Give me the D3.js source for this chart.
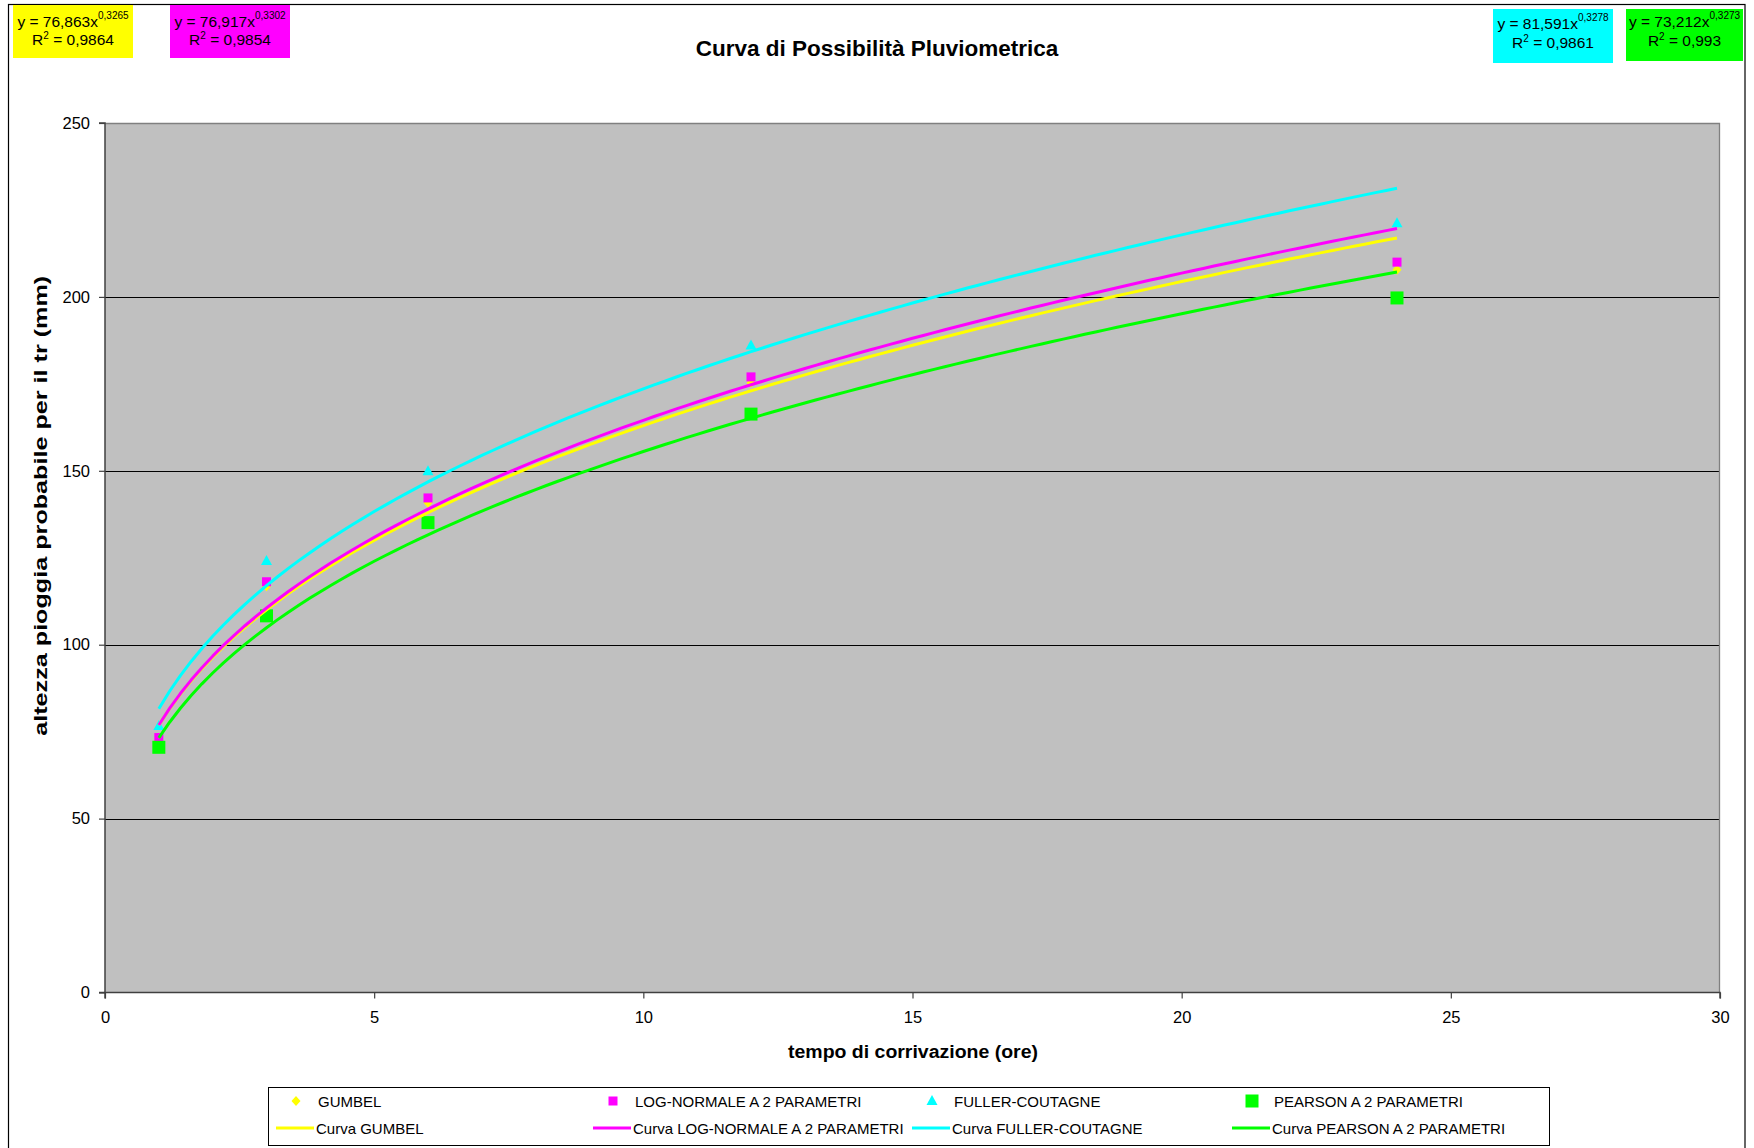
<!DOCTYPE html>
<html>
<head>
<meta charset="utf-8">
<script src="https://cdn.jsdelivr.net/npm/d3@7"></script>
<style>
  html, body { margin: 0; padding: 0; background: #ffffff; }
  svg { display: block; }
  text { font-family: "Liberation Sans", Arial, sans-serif; fill: #000; }
</style>
</head>
<body>
<svg id="chart" width="1754" height="1148"></svg>
<script>
// ---- data ----
const xValues = [1, 3, 6, 12, 24];
const gumbel = [72.5, 116.8, 140.8, 175.3, 207.8];
const logNormale = [73.3, 118.1, 142.2, 177.0, 210.0];
const fullerCoutagne = [76.6, 124.1, 149.9, 186.0, 221.2];
const pearson = [70.5, 108.3, 135.1, 166.3, 199.7];
const seriesNames = ["GUMBEL", "LOG-NORMALE A 2 PARAMETRI", "FULLER-COUTAGNE", "PEARSON A 2 PARAMETRI"];
const seriesColors = ["#ffff00", "#ff00ff", "#00ffff", "#00ff00"];
const seriesSymbols = ["diamond", "square", "triangle", "bigsquare"];
// trendline (power) coefficients shown in the chart: y = a * x^b
const trendA = [76.863, 76.917, 81.591, 73.212];
const trendB = [0.3265, 0.3302, 0.3278, 0.3273];
const trendAText = ["76,863", "76,917", "81,591", "73,212"];
const trendBText = ["0,3265", "0,3302", "0,3278", "0,3273"];
const r2Text = ["0,9864", "0,9854", "0,9861", "0,993"];
const xTicks = [0, 5, 10, 15, 20, 25, 30];
const yTicks = [0, 50, 100, 150, 200, 250];
const titleText = "Curva di Possibilità Pluviometrica";
const xLabel = "tempo di corrivazione (ore)";
const yLabel = "altezza pioggia probabile per il tr (mm)";

const seriesValues = [gumbel, logNormale, fullerCoutagne, pearson];

// ---- layout ----
const svg = d3.select("#chart");
const plot = { left: 105, right: 1720, top: 123, bottom: 992.5 };
const x = d3.scaleLinear().domain([0, 30]).range([plot.left, plot.right]);
const y = d3.scaleLinear().domain([0, 250]).range([plot.bottom, plot.top]);

// outer chart border
svg.append("rect").attr("x", 8.5).attr("y", 4.5).attr("width", 1736.5).attr("height", 1160)
  .attr("fill", "#fff").attr("stroke", "#000").attr("stroke-width", 1.2);

// plot background
svg.append("rect").attr("x", plot.left).attr("y", plot.top)
  .attr("width", plot.right - plot.left).attr("height", plot.bottom - plot.top)
  .attr("fill", "#c0c0c0");

// gridlines
svg.append("g").selectAll("line").data(yTicks.filter(d => d > 0 && d < 250)).join("line")
  .attr("x1", plot.left).attr("x2", plot.right)
  .attr("y1", d => Math.round(y(d)) + 0.5).attr("y2", d => Math.round(y(d)) + 0.5)
  .attr("stroke", "#000").attr("stroke-width", 1);

// top and right frame
svg.append("path")
  .attr("d", `M${plot.left},${plot.top + 0.5}H${plot.right - 0.5}V${plot.bottom}`)
  .attr("fill", "none").attr("stroke", "#808080").attr("stroke-width", 1.3);

// axes
const yAxis = d3.axisLeft(y).tickValues(yTicks).tickSize(6).tickPadding(9).tickFormat(d3.format("d"));
const xAxis = d3.axisBottom(x).tickValues(xTicks).tickSize(6).tickPadding(13).tickFormat(d3.format("d"));
const gy = svg.append("g").attr("transform", `translate(${plot.left},0)`).call(yAxis);
const gx = svg.append("g").attr("transform", `translate(0,${plot.bottom})`).call(xAxis);
[gx, gy].forEach(g => {
  g.select(".domain").attr("stroke", "#404040").attr("stroke-width", 1.5);
  g.selectAll(".tick line").attr("stroke", "#404040").attr("stroke-width", 1.2);
  g.selectAll(".tick text").attr("font-size", 16.5).attr("font-family", "Liberation Sans, Arial, sans-serif").attr("fill", "#000");
});
gy.select(".domain").attr("d", `M-6,${y(250)}H0V${y(0)}H-6`).attr("fill", "none");
gx.select(".domain").attr("d", `M${x(0)},6V0H${x(30)}V6`).attr("fill", "none");

// markers
function drawMarker(g, sym, color) {
  if (sym === "diamond") {
    g.append("path").attr("d", "M0,-5L4.5,0L0,5L-4.5,0Z").attr("fill", color);
  } else if (sym === "square") {
    g.append("rect").attr("x", -4.5).attr("y", -4.5).attr("width", 9).attr("height", 9).attr("fill", color);
  } else if (sym === "triangle") {
    g.append("path").attr("d", "M0,-6L5.5,4L-5.5,4Z").attr("fill", color);
  } else {
    g.append("rect").attr("x", -6.5).attr("y", -6.5).attr("width", 13).attr("height", 13).attr("fill", color);
  }
}

seriesValues.forEach((vals, si) => {
  const g = svg.append("g");
  vals.forEach((v, i) => {
    const mg = g.append("g").attr("transform", `translate(${x(xValues[i])},${y(v)})`);
    drawMarker(mg, seriesSymbols[si], seriesColors[si]);
  });
});

// trendlines (power fits as shown in chart equations)
const line = d3.line().x(d => x(d[0])).y(d => y(d[1]));
const xs = d3.range(1, 24.0001, 0.2);
trendA.forEach((a, si) => {
  const pts = xs.map(t => [t, a * Math.pow(t, trendB[si])]);
  svg.append("path").attr("d", line(pts)).attr("fill", "none")
    .attr("stroke", seriesColors[si]).attr("stroke-width", 3).attr("stroke-linejoin", "round");
});

// title & axis labels
svg.append("text").attr("x", 877).attr("y", 56).attr("text-anchor", "middle")
  .attr("font-size", 22.5).attr("font-weight", "bold").text(titleText);
svg.append("text").attr("x", 913).attr("y", 1058).attr("text-anchor", "middle")
  .attr("font-size", 17.5).attr("font-weight", "bold")
  .attr("textLength", 250).attr("lengthAdjust", "spacingAndGlyphs").text(xLabel);
svg.append("text").attr("transform", `translate(47,${(plot.top + plot.bottom) / 2 - 52}) rotate(-90)`)
  .attr("text-anchor", "middle").attr("font-size", 17.5).attr("font-weight", "bold")
  .attr("textLength", 460).attr("lengthAdjust", "spacingAndGlyphs").text(yLabel);

// equation boxes
const eqBoxes = [
  { x: 13, y: 5, w: 120, h: 53, l1: 27, l2: 45 },
  { x: 170, y: 5, w: 120, h: 53, l1: 27, l2: 45 },
  { x: 1493, y: 9, w: 120, h: 54, l1: 29, l2: 48 },
  { x: 1626, y: 9, w: 117, h: 52, l1: 27, l2: 46 }
];
eqBoxes.forEach((b, i) => {
  const g = svg.append("g");
  g.append("rect").attr("x", b.x).attr("y", b.y).attr("width", b.w).attr("height", b.h).attr("fill", seriesColors[i]);
  const t1 = g.append("text").attr("x", b.x + b.w / 2).attr("y", b.l1).attr("text-anchor", "middle").attr("font-size", 15.5);
  t1.append("tspan").text(`y = ${trendAText[i]}x`);
  t1.append("tspan").attr("font-size", 10).attr("dy", -8).text(trendBText[i]);
  const t2 = g.append("text").attr("x", b.x + b.w / 2).attr("y", b.l2).attr("text-anchor", "middle").attr("font-size", 15.5);
  t2.append("tspan").text("R");
  t2.append("tspan").attr("font-size", 10).attr("dy", -6).text("2");
  t2.append("tspan").attr("dy", 6).text(" = " + r2Text[i]);
});

// legend
const legend = svg.append("g");
legend.append("rect").attr("x", 268.5).attr("y", 1087.5).attr("width", 1281).attr("height", 58)
  .attr("fill", "#fff").attr("stroke", "#000").attr("stroke-width", 1);
const colX = [276, 593, 912, 1232];
const row1 = 1101, row2 = 1128;
seriesNames.forEach((name, i) => {
  const mg = legend.append("g").attr("transform", `translate(${colX[i] + 20},${row1})`);
  drawMarker(mg, seriesSymbols[i], seriesColors[i]);
  legend.append("text").attr("x", colX[i] + 42).attr("y", row1 + 5.5).attr("font-size", 15).text(name);
  legend.append("line").attr("x1", colX[i]).attr("x2", colX[i] + 38).attr("y1", row2).attr("y2", row2)
    .attr("stroke", seriesColors[i]).attr("stroke-width", 3);
  legend.append("text").attr("x", colX[i] + 40).attr("y", row2 + 5.5).attr("font-size", 15).text("Curva " + name);
});
</script>
</body>
</html>
